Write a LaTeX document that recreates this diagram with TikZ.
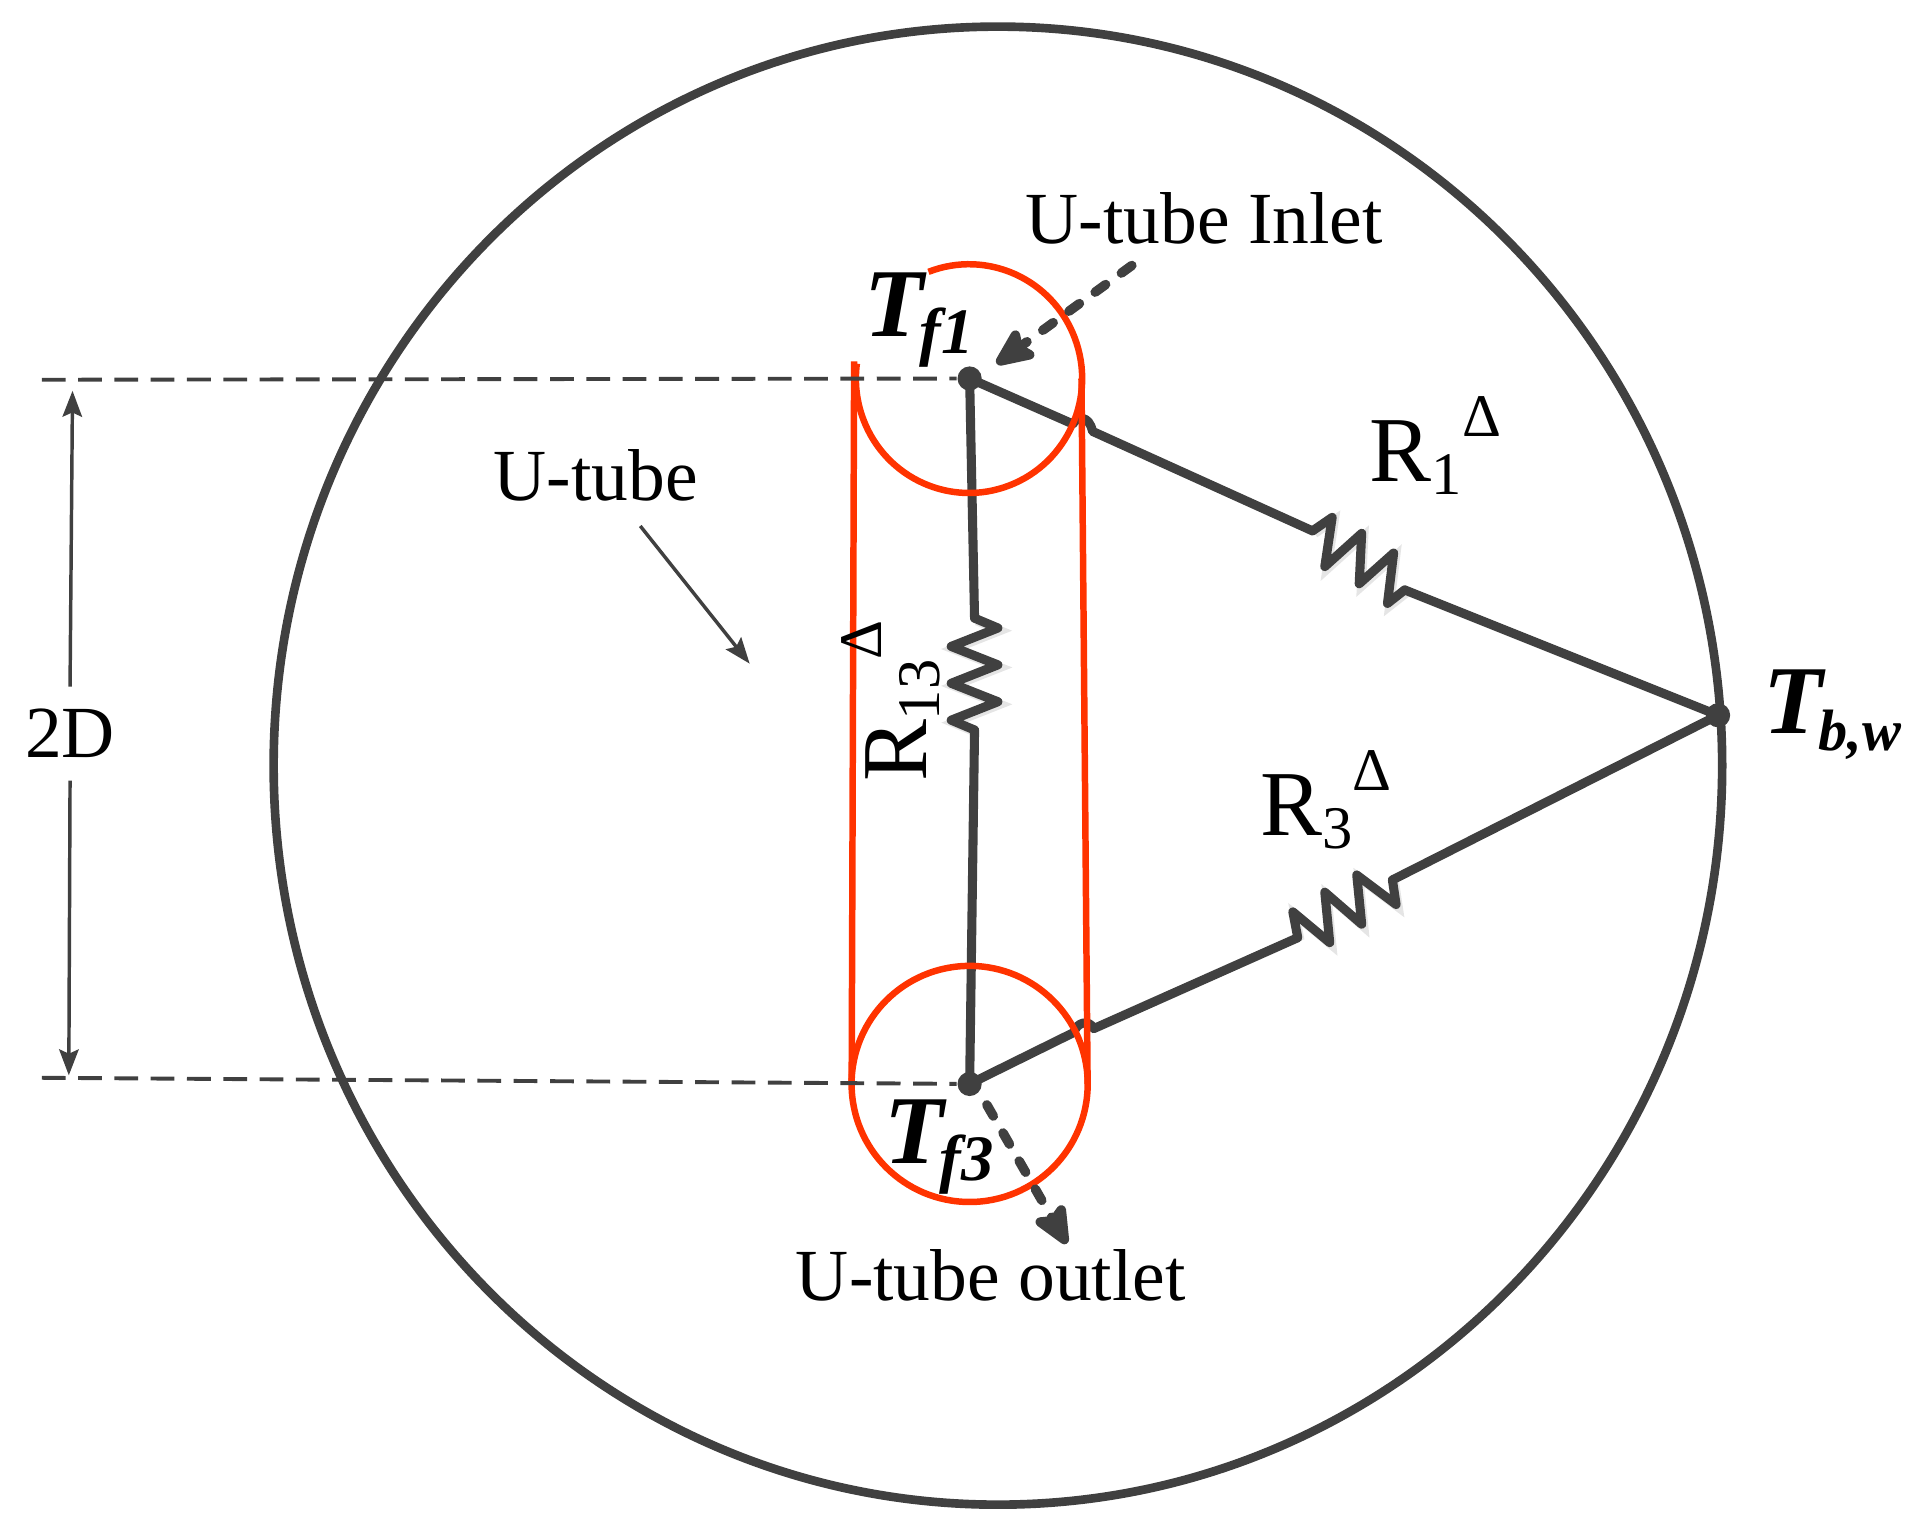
\documentclass[tikz,border=0pt]{standalone}
\usepackage{fontspec}
\setmainfont{Liberation Serif}
\usetikzlibrary{arrows.meta}
\definecolor{wire}{HTML}{404040}
\definecolor{tube}{HTML}{FF3300}
\newcommand{\bigtxt}{\fontsize{17}{20}\selectfont}
\newcommand{\rsize}{\fontsize{21.5}{24}\selectfont}
\newcommand{\subsz}{\fontsize{14}{16}\selectfont}
\newcommand{\resistlabel}[1]{{\rsize R}\raisebox{-2.9pt}{\subsz #1}\raisebox{10.5pt}{\subsz Δ}}
\newcommand{\templabel}[2]{{\bfseries\itshape\fontsize{22.5}{26}\selectfont T\kern-1pt\raisebox{-3.8pt}{\fontsize{#1}{16}\selectfont #2}}}
\begin{document}
\begin{tikzpicture}[x=0.01cm,y=-0.01cm,
  wireline/.style={draw=wire,line width=2.1pt,line join=round,line cap=round},
  zigzag/.style={wireline,preaction={draw=black!10,line width=2.1pt,transform canvas={shift={(0.5pt,-0.6pt)}}}},
  tubeline/.style={draw=tube,line width=1.5pt},
  dimline/.style={draw=wire,line width=0.9pt,dash pattern=on 5.5pt off 2.9pt},
  thinarrow/.style={draw=wire,line width=0.8pt,-{Stealth[length=6pt,width=4.5pt,inset=1pt]}},
  flowarrow/.style={draw=wire,line width=2.2pt,line cap=round,dash pattern=on 3pt off 4.5pt,-{Stealth[length=11pt,width=9.5pt,inset=2pt,line cap=butt,round=false]}},
  dot/.style={circle,fill=wire,inner sep=0pt,minimum size=5.6pt},
  lbl/.style={inner sep=0pt,anchor=base west},
]
\useasboundingbox (0,0) rectangle (1568,1251.5);

% named points
\node[dot] (tf1) at (789,308) {};
\node[dot] (tf3) at (789,882) {};
\node[dot] (tbw) at (1398,582) {};
\coordinate (dashA) at (34,309);
\coordinate (dashB) at (34,877);
\coordinate (inletTail) at (921,216);
\coordinate (inletTip) at (811,296);
\coordinate (outletTail) at (803,899);
\coordinate (outletTip) at (868,1012);
\coordinate (tubeTail) at (521,428);
\coordinate (tubeTip) at (610,540);
\coordinate (dimTop) at (59,318);
\coordinate (dimBot) at (56,875);

% borehole wall
\draw[draw=wire,line width=2pt] (812,623) ellipse [x radius=5.89cm,y radius=6.01cm];

% R1 branch
\path[wireline] (tf1.center) -- (873,345) .. controls (876,339) and (886,337) .. (889,351) -- (1068,432);
\path[zigzag] (1068,432) -- (1084,421) -- (1078,461) -- (1108,434) -- (1106,475) -- (1134,450) -- (1129,491) -- (1143,480);
\path[wireline] (1143,480) -- (tbw.center);

% R3 branch
\path[wireline] (tf3.center) -- (874,840) .. controls (876,832) and (886,829) .. (890,837) -- (1056,763);
\path[zigzag] (1056,763) -- (1052,742) -- (1082,767) -- (1078,726) -- (1108,752) -- (1104,712) -- (1136,736) -- (1133,716);
\path[wireline] (1133,716) -- (tbw.center);

% R13 branch
\path[wireline] (tf1.center) -- (793,503);
\path[zigzag] (793,503) -- (812,511) -- (774,526) -- (812,541) -- (774,556) -- (812,571) -- (774,586) -- (793,594);
\path[wireline] (793,594) -- (tf3.center);

% U-tube
\draw[tubeline] (695,294) -- (693,882);
\draw[tubeline] (880,308) -- (885,882);
\draw[tubeline] (755.5,221.2) arc [start angle=111,end angle=-187.5,x radius=0.92cm,y radius=0.93cm];
\draw[tubeline] (789,882) ellipse [x radius=0.96cm,y radius=0.96cm];

% dashed extension lines
\draw[dimline] (dashA) -- (tf1);
\draw[dimline] (dashB) -- (tf3);

% dimension
\node[inner sep=0pt,minimum height=75*0.2845pt,font=\bigtxt] (twoD) at (57,597) {2D};
\draw[thinarrow] (twoD.north) -- (dimTop);
\draw[thinarrow] (twoD.south) -- (dimBot);

% arrows
\draw[thinarrow] (tubeTail) -- (tubeTip);
\draw[flowarrow] (inletTail) -- (inletTip);
\draw[flowarrow] (outletTail) -- (outletTip);

% labels
\node[lbl,font=\bigtxt] (inletlabel) at (834,198) {U-tube Inlet};
\node[lbl,font=\bigtxt] (tubelabel) at (401,407) {U-tube};
\node[lbl,font=\bigtxt] (outletlabel) at (647,1058) {U-tube outlet};
\node[lbl] (rone) at (1114,392) {\resistlabel{1}};
\node[lbl] (rthree) at (1025,680) {\resistlabel{3}};
\node[lbl,rotate=90] (rthirteen) at (754,637) {\resistlabel{13}};
\node[lbl] (tfone) at (703,274) {\templabel{15}{f1}};
\node[lbl] (tfthree) at (719,947) {\templabel{15}{f3}};
\node[lbl] (tbwlabel) at (1434,597) {\templabel{13.5}{b,w}};
\end{tikzpicture}
\end{document}
